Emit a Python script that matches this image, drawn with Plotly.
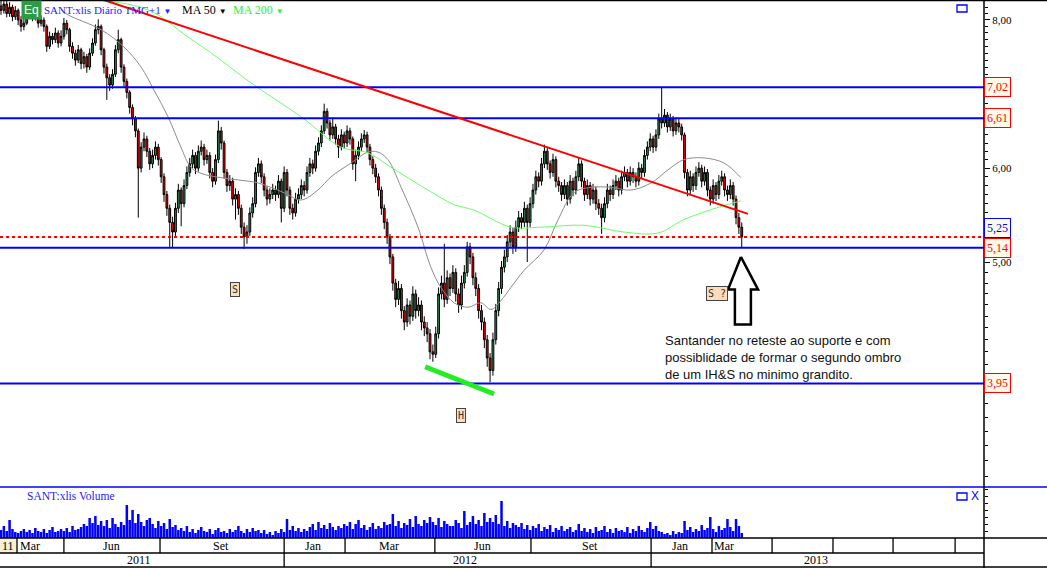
import math
import plotly.graph_objects as go

# ---------------- data (each bar = 2 trading days, Mar/2011 .. Mar/2013) ----------------
opens = [
 8.22,8.15,8.25,8.10,8.20,8.05,8.15,8.00,7.90,7.95,8.10,8.15,8.05,8.10,7.95,8.00,7.90,7.60,7.75,7.70,
 7.80,7.65,7.75,7.95,7.85,7.60,7.50,7.40,7.55,7.35,7.45,7.30,7.50,7.65,7.85,7.90,7.55,7.30,7.15,7.05,
 7.20,7.55,7.70,7.30,7.10,6.95,6.75,6.60,6.45,6.00,6.25,6.35,6.20,6.05,6.15,6.25,6.10,5.90,5.70,5.55,
 5.40,5.30,5.55,5.75,5.60,5.80,5.95,6.05,6.15,6.00,6.20,6.25,6.10,6.15,5.95,5.85,6.10,6.45,6.30,5.95,
 5.80,5.85,5.65,5.70,5.55,5.35,5.25,5.30,5.50,5.60,5.95,6.05,5.90,5.75,5.65,5.70,5.75,5.70,5.85,5.55,
 5.95,5.75,5.55,5.50,5.65,5.70,5.80,5.75,5.95,6.05,6.00,6.20,6.30,6.45,6.70,6.55,6.40,6.50,6.35,6.25,
 6.40,6.30,6.45,6.35,6.05,6.15,6.25,6.35,6.40,6.25,6.10,6.00,5.90,5.75,5.55,5.40,5.25,5.05,4.80,4.65,
 4.75,4.55,4.45,4.60,4.50,4.70,4.55,4.60,4.45,4.40,4.35,4.20,4.18,4.35,4.70,4.80,4.65,4.85,4.75,4.90,
 4.70,4.60,4.80,4.90,5.15,5.05,4.85,4.75,4.55,4.45,4.30,4.15,4.05,4.30,4.55,4.75,4.95,5.05,5.20,5.30,
 5.15,5.35,5.45,5.40,5.55,5.40,5.60,5.75,5.90,5.85,6.05,6.20,6.05,5.95,6.10,5.85,5.80,5.70,5.80,5.65,
 5.85,5.75,5.90,6.05,5.85,5.70,5.80,5.65,5.75,5.60,5.55,5.45,5.60,5.75,5.70,5.80,5.85,5.75,5.90,5.95,
 5.85,5.95,5.90,5.85,6.00,5.95,6.15,6.25,6.35,6.25,6.40,6.60,6.55,6.65,6.50,6.60,6.45,6.55,6.50,6.40,
 5.95,5.75,5.90,5.80,5.95,6.00,5.85,5.95,5.75,5.65,5.80,5.70,5.85,5.90,5.75,5.70,5.80,5.65,5.45,5.35,
]
closes = [
 8.15,8.25,8.10,8.20,8.05,8.15,8.00,7.90,7.95,8.10,8.15,8.05,8.10,7.95,8.00,7.90,7.60,7.75,7.70,7.80,
 7.65,7.75,7.95,7.85,7.60,7.50,7.40,7.55,7.35,7.45,7.30,7.50,7.65,7.85,7.90,7.55,7.30,7.15,7.05,7.20,
 7.55,7.70,7.30,7.10,6.95,6.75,6.60,6.45,6.00,6.25,6.35,6.20,6.05,6.15,6.25,6.10,5.90,5.70,5.55,5.40,
 5.30,5.55,5.75,5.60,5.80,5.95,6.05,6.15,6.00,6.20,6.25,6.10,6.15,5.95,5.85,6.10,6.45,6.30,5.95,5.80,
 5.85,5.65,5.70,5.55,5.35,5.25,5.30,5.50,5.60,5.95,6.05,5.90,5.75,5.65,5.70,5.75,5.70,5.85,5.55,5.95,
 5.75,5.55,5.50,5.65,5.70,5.80,5.75,5.95,6.05,6.00,6.20,6.30,6.45,6.70,6.55,6.40,6.50,6.35,6.25,6.40,
 6.30,6.45,6.35,6.05,6.15,6.25,6.35,6.40,6.25,6.10,6.00,5.90,5.75,5.55,5.40,5.25,5.05,4.80,4.65,4.75,
 4.55,4.45,4.60,4.50,4.70,4.55,4.60,4.45,4.40,4.35,4.20,4.18,4.35,4.70,4.80,4.65,4.85,4.75,4.90,4.70,
 4.60,4.80,4.90,5.15,5.05,4.85,4.75,4.55,4.45,4.30,4.15,4.05,4.30,4.55,4.75,4.95,5.05,5.20,5.30,5.15,
 5.35,5.45,5.40,5.55,5.40,5.60,5.75,5.90,5.85,6.05,6.20,6.05,5.95,6.10,5.85,5.80,5.70,5.80,5.65,5.85,
 5.75,5.90,6.05,5.85,5.70,5.80,5.65,5.75,5.60,5.55,5.45,5.60,5.75,5.70,5.80,5.85,5.75,5.90,5.95,5.85,
 5.95,5.90,5.85,6.00,5.95,6.15,6.25,6.35,6.25,6.40,6.60,6.55,6.65,6.50,6.60,6.45,6.55,6.50,6.40,5.95,
 5.75,5.90,5.80,5.95,6.00,5.85,5.95,5.75,5.65,5.80,5.70,5.85,5.90,5.75,5.70,5.80,5.65,5.45,5.35,5.25,
]
highs = [
 8.32,8.34,8.30,8.28,8.24,8.22,8.18,8.06,8.02,8.18,8.24,8.20,8.16,8.13,8.07,8.04,7.93,7.82,7.80,7.88,
 7.84,7.84,8.03,8.00,7.88,7.66,7.55,7.62,7.58,7.52,7.49,7.57,7.72,7.93,8.01,7.93,7.58,7.35,7.20,7.27,
 7.62,7.85,7.73,7.34,7.14,6.98,6.79,6.64,6.48,6.31,6.43,6.39,6.24,6.22,6.32,6.29,6.13,5.94,5.74,5.59,
 5.46,5.61,5.82,5.78,5.87,6.02,6.12,6.22,6.19,6.27,6.33,6.29,6.22,6.19,6.00,6.16,6.58,6.50,6.33,5.99,
 5.92,5.89,5.77,5.74,5.59,5.40,5.37,5.56,5.67,6.01,6.12,6.09,5.94,5.79,5.77,5.82,5.80,5.92,5.88,6.02,
 5.99,5.79,5.60,5.72,5.77,5.87,5.85,6.02,6.12,6.10,6.27,6.37,6.52,6.80,6.74,6.59,6.62,6.54,6.40,6.47,
 6.44,6.52,6.49,6.38,6.22,6.32,6.42,6.46,6.44,6.29,6.14,6.05,5.94,5.79,5.59,5.44,5.28,5.08,4.84,4.82,
 4.79,4.59,4.66,4.64,4.77,4.74,4.67,4.64,4.50,4.45,4.39,4.26,4.41,4.76,4.87,5.18,4.92,4.89,4.97,4.94,
 4.75,4.87,4.97,5.20,5.19,5.09,4.90,4.79,4.60,4.49,4.34,4.19,4.36,4.61,4.81,5.01,5.12,5.27,5.37,5.34,
 5.42,5.52,5.50,5.62,5.59,5.67,5.82,5.97,5.95,6.12,6.28,6.24,6.09,6.17,6.14,5.90,5.84,5.87,5.84,5.92,
 5.89,5.97,6.12,6.09,5.89,5.87,5.84,5.82,5.79,5.65,5.60,5.67,5.82,5.80,5.87,5.92,5.89,5.97,6.02,5.99,
 6.02,6.00,5.95,6.07,6.05,6.22,6.32,6.42,6.39,6.47,6.67,7.02,6.73,6.69,6.67,6.64,6.62,6.60,6.54,6.43,
 5.99,5.97,5.94,6.02,6.07,6.04,6.02,5.99,5.79,5.87,5.84,5.92,5.97,5.94,5.80,5.87,5.84,5.69,5.50,5.40,
]
lows = [
 8.08,8.10,8.04,8.05,7.98,8.00,7.92,7.82,7.84,7.92,8.04,7.98,7.99,7.88,7.90,7.82,7.52,7.56,7.63,7.65,
 7.58,7.60,7.70,7.78,7.52,7.42,7.32,7.36,7.27,7.28,7.22,7.26,7.46,7.61,7.78,7.47,7.21,6.85,6.97,7.00,
 7.16,7.50,7.22,7.02,6.87,6.67,6.52,6.37,5.45,5.95,6.20,6.13,5.98,6.00,6.10,6.03,5.83,5.62,5.47,5.15,
 5.14,5.26,5.50,5.36,5.56,5.76,5.90,6.00,5.93,5.96,6.15,6.03,6.05,5.88,5.78,5.81,6.06,6.22,5.88,5.73,
 5.74,5.58,5.43,5.48,5.28,5.13,5.18,5.26,5.45,5.56,5.90,5.83,5.68,5.58,5.60,5.65,5.63,5.66,5.40,5.51,
 5.68,5.48,5.43,5.46,5.60,5.65,5.68,5.71,5.90,5.93,5.96,6.15,6.25,6.41,6.48,6.33,6.35,6.28,6.12,6.21,
 6.23,6.25,6.28,5.98,5.85,6.10,6.20,6.30,6.18,6.03,5.93,5.83,5.68,5.48,5.33,5.18,4.98,4.73,4.58,4.60,
 4.48,4.38,4.41,4.43,4.46,4.48,4.50,4.38,4.33,4.28,4.14,4.12,4.15,4.31,4.65,4.58,4.61,4.68,4.71,4.63,
 4.53,4.56,4.75,4.86,4.98,4.78,4.68,4.48,4.38,4.23,4.08,3.96,4.01,4.26,4.50,4.70,4.90,5.00,5.15,5.08,
 5.10,5.30,5.33,5.35,5.00,5.35,5.55,5.70,5.78,5.80,6.00,5.98,5.88,5.90,5.78,5.73,5.63,5.65,5.58,5.60,
 5.68,5.70,5.85,5.78,5.63,5.65,5.58,5.60,5.53,5.48,5.28,5.40,5.55,5.63,5.65,5.75,5.68,5.70,5.85,5.78,
 5.80,5.83,5.78,5.80,5.88,5.90,6.10,6.20,6.18,6.20,6.35,6.48,6.50,6.43,6.45,6.38,6.40,6.43,6.33,5.88,
 5.68,5.70,5.73,5.75,5.90,5.78,5.80,5.68,5.58,5.60,5.63,5.65,5.80,5.68,5.63,5.65,5.58,5.38,5.28,5.14,
]
volumes = [
 8,12,7,18,9,6, 5,7,9,6,8,5,10,7,6,9,5,8,11,6,7,9,
 7,10,6,12,8,9,11, 14,12,20,15,22,13,17, 12,18,10,20,14,11,16,13,
 33,18,28,15,24, 16,12,18,20,14,10,17,12,15,9,19,11,13,8,
 10,7,12,6,9,5,8,11,7,6,9,4,8,10,6,7,5,9,6,8,12,7,5,9,6,10,7,8,
 5,8,4,6,3,7,5,9,6,19,8,12,7,10,6,
 9,7,11,14,8,16,10,13,9,15,11,8,12,10,14,
 12,16,9,14,18,10,13,8,11,15,9,12,10,16,13,
 14,24,12,17,10,15,13,19,11,22,14,12,18,15,21,
 16,13,20,11,17,14,12,12,18,15,10,27,13,16,22,
 14,18,12,25,16,20,16,23,14,37,12,17,10,15,13,
 11,15,9,13,8,12,10,14,7,11,9,13,6,10,8,12,7,9,11,6,
 8,14,7,10,6,9,5,11,7,8,12,6,9,5,10,7,8,6,11,5,9,7,12,8,6,
 10,16,9,12,7,6,4,5,3,7,4,6,5,17,8,11,6,9,7,13,8,10,21,9,6,12,8,10,19,11,7,19,12,5,
]
bars = list(range(len(closes)))

# moving averages (bar index, price)
ma50_x = [21.0,23.4,35.0,43.0,49.0,53.5,58.4,62.9,66.4,69.9,76.9,83.9,89.9,99.0,104.9,110.8,115.4,
          122.4,128.3,131.8,135.3,139.9,145.8,150.3,153.8,158.4,163.3,167.8,171.3,174.8,178.3,182.9,
          189.9,194.8,200.3,206.3,213.3,220.3,227.3,233.2,238.8,245.8,252.8,258.7]
ma50_y = [8.16,8.08,7.85,7.59,7.30,6.98,6.63,6.25,6.01,5.94,5.89,5.86,5.83,5.72,5.64,5.75,5.90,
          6.06,6.19,6.19,6.10,5.78,5.35,4.95,4.76,4.62,4.58,4.62,4.56,4.64,4.76,4.92,
          5.12,5.43,5.72,5.78,5.78,5.75,5.83,5.98,6.10,6.12,6.06,5.89]
ma200_x = [33.2,51.4,65.4,75.9,87.4,104.9,118.9,128.3,136.4,149.3,158.4,165.4,178.3,188.8,203.8,
           217.8,229.7,238.8,250.7,258.7]
ma200_y = [8.32,8.16,7.74,7.43,7.08,6.63,6.25,6.18,6.01,5.75,5.59,5.53,5.35,5.35,5.37,
           5.30,5.29,5.43,5.56,5.63]

support_levels = [7.02, 6.61, 5.14, 3.95]
last_price = 5.25
trend_x = [35.7, 261.2]
trend_y = [8.32, 5.49]
neck_x = [148.3, 172.4]
neck_y = [4.08, 3.87]
arrow_x = [258.7, 264.7, 262.2, 262.2, 256.6, 256.6, 254.2, 258.7]
arrow_y = [5.05, 4.74, 4.74, 4.43, 4.43, 4.74, 4.74, 5.05]

month_labels = ["11", "Mar", "Jun", "Set", "Jan", "Mar", "Jun", "Set", "Jan", "Mar"]
month_label_x = [2.4, 10.1, 38.5, 76.9, 109.1, 135.7, 168.2, 205.9, 237.4, 252.8]
month_edges = [5.6, 22.0, 55.6, 99.0, 120.3, 151.7, 185.3, 227.3, 248.6, 269.6, 290.9, 311.9, 333.6]
year_labels = ["2011", "2012", "2013"]
year_label_x = [48.3, 162.2, 285.0]
year_edges = [99.0, 227.3]

price_ticks = [5, 6, 8]
price_ticktext = ["5,00", "6,00", "8,00"]

# ---------------- figure ----------------
W, H = 1047, 568
PLOT_W, PLOT_H = 984, 538
XR = [-0.35, 343.7]
VOL_TOP = 51 / PLOT_H

def py(p):   # pixel-row -> paper y
    return (PLOT_H - p) / PLOT_H

def px(p):   # pixel-col -> paper x
    return p / PLOT_W

fig = go.Figure()

fig.add_trace(go.Candlestick(
    x=bars, open=opens, high=highs, low=lows, close=closes,
    increasing=dict(fillcolor="#2e8b57", line=dict(color="black", width=1)),
    decreasing=dict(fillcolor="#ff0000", line=dict(color="black", width=1)),
    whiskerwidth=0, xaxis="x", yaxis="y", showlegend=False, hoverinfo="skip"))

fig.add_trace(go.Bar(x=bars, y=volumes, marker=dict(color="#0000ff", line=dict(width=0)),
                     xaxis="x", yaxis="y2", showlegend=False))

fig.add_trace(go.Scatter(x=ma50_x, y=ma50_y, mode="lines", line=dict(color="#8c8c8c", width=1, shape="spline"),
                         showlegend=False, hoverinfo="skip"))
fig.add_trace(go.Scatter(x=ma200_x, y=ma200_y, mode="lines", line=dict(color="#66ff66", width=1, shape="spline"),
                         showlegend=False, hoverinfo="skip"))

for lv in support_levels:
    fig.add_trace(go.Scatter(x=XR, y=[lv, lv], mode="lines", line=dict(color="#0000ff", width=2),
                             showlegend=False, hoverinfo="skip"))
fig.add_trace(go.Scatter(x=XR, y=[last_price, last_price], mode="lines",
                         line=dict(color="#ff0000", width=2, dash="dot"), showlegend=False, hoverinfo="skip"))
fig.add_trace(go.Scatter(x=trend_x, y=trend_y, mode="lines", line=dict(color="#ff0000", width=2),
                         showlegend=False, hoverinfo="skip"))
fig.add_trace(go.Scatter(x=neck_x, y=neck_y, mode="lines", line=dict(color="#22ee22", width=5),
                         showlegend=False, hoverinfo="skip"))
fig.add_trace(go.Scatter(x=arrow_x, y=arrow_y, mode="lines", fill="toself", fillcolor="white",
                         line=dict(color="black", width=2.5), showlegend=False, hoverinfo="skip"))

serif = "Liberation Serif"
ann = []
shapes = []

# right-axis value boxes
def valbox(v, txt, col, anchor="middle"):
    ann.append(dict(x=1, xref="paper", xanchor="left", y=math.log10(v), yref="y", yanchor=anchor,
                    text=txt, showarrow=False, font=dict(family=serif, size=12, color=col),
                    bgcolor="#fffbe8", bordercolor=col, borderwidth=1, borderpad=2))
valbox(7.02, "7,02", "#ff0000")
valbox(6.61, "6,61", "#ff0000")
valbox(5.235, "5,25", "#0000ff", anchor="bottom")
valbox(5.14, "5,14", "#ff0000")
valbox(3.95, "3,95", "#ff0000")

# pattern labels
def tag(xv, yv, txt):
    ann.append(dict(x=xv, xref="x", y=math.log10(yv), yref="y", text=txt, showarrow=False,
                    font=dict(family="DejaVu Sans Mono", size=10, color="#333333"),
                    bgcolor="#fddcbc", bordercolor="#444444", borderwidth=1, borderpad=1))
tag(81.8, 4.74, "S")
tag(161.0, 3.71, "H")
tag(250.5, 4.70, "S ?")

ann.append(dict(x=px(663), xref="paper", xanchor="left", y=py(331), yref="paper", yanchor="top",
                align="left", showarrow=False,
                text="Santander no reteste ao suporte e com<br>possiblidade de formar o segundo ombro<br>de um IH&S no minimo grandito.",
                font=dict(family="Liberation Sans", size=13, color="#111111")))

# header
tri = " <span style='font-size:8px'>▼</span>"
ann.append(dict(x=px(21), xref="paper", xanchor="left", y=py(10), yref="paper", yanchor="middle",
                text="Eq", showarrow=False, font=dict(family="Liberation Sans", size=12, color="white"),
                bgcolor="#2f9a44", borderpad=2))
ann.append(dict(x=px(42), xref="paper", xanchor="left", y=py(10), yref="paper", yanchor="middle",
                text="SANT:xlis Diário TMG+1" + tri, showarrow=False,
                font=dict(family=serif, size=11, color="#2222ff")))
ann.append(dict(x=px(180), xref="paper", xanchor="left", y=py(10), yref="paper", yanchor="middle",
                text="MA 50" + tri, showarrow=False, font=dict(family=serif, size=12, color="black")))
ann.append(dict(x=px(231), xref="paper", xanchor="left", y=py(10), yref="paper", yanchor="middle",
                text="MA 200" + tri, showarrow=False, font=dict(family=serif, size=12, color="#33ee33")))
ann.append(dict(x=px(25), xref="paper", xanchor="left", y=py(496), yref="paper", yanchor="middle",
                text="SANT:xlis Volume", showarrow=False, font=dict(family=serif, size=11.5, color="#2222ff")))
ann.append(dict(x=px(969), xref="paper", xanchor="left", y=py(496), yref="paper", yanchor="middle",
                text="X", showarrow=False, font=dict(family="Liberation Sans", size=12, color="#0000ff")))

# date table
for lab, xv in zip(month_labels, month_label_x):
    ann.append(dict(x=xv, xref="x", y=py(545.5), yref="paper", yanchor="middle", text=lab,
                    showarrow=False, font=dict(family=serif, size=12, color="black")))
for lab, xv in zip(year_labels, year_label_x):
    ann.append(dict(x=xv, xref="x", y=py(560), yref="paper", yanchor="middle", text=lab,
                    showarrow=False, font=dict(family=serif, size=12, color="black")))

shapes.append(dict(type="rect", xref="x", x0=XR[0], x1=month_edges[0], yref="paper", y0=py(538), y1=py(553),
                   fillcolor="#f3f0d6", line=dict(width=0), layer="below"))
for e in month_edges:
    shapes.append(dict(type="line", xref="x", x0=e, x1=e, yref="paper", y0=py(538), y1=py(553),
                       line=dict(color="black", width=1.3)))
for e in year_edges:
    shapes.append(dict(type="line", xref="x", x0=e, x1=e, yref="paper", y0=py(553), y1=py(567),
                       line=dict(color="black", width=1.3)))
for yy, x1 in [(538, W), (553, PLOT_W), (567, W)]:
    shapes.append(dict(type="line", xref="paper", x0=0, x1=x1 / PLOT_W, yref="paper", y0=py(yy), y1=py(yy),
                       line=dict(color="black", width=1.5)))
shapes.append(dict(type="line", xref="paper", x0=0, x1=W / PLOT_W, yref="paper", y0=py(487), y1=py(487),
                   line=dict(color="#0000ff", width=1.3)))
shapes.append(dict(type="line", xref="paper", x0=0, x1=W / PLOT_W, yref="paper", y0=py(0.5), y1=py(0.5),
                   line=dict(color="black", width=1.5)))
shapes.append(dict(type="line", xref="paper", x0=1, x1=1, yref="paper", y0=py(568), y1=1,
                   line=dict(color="black", width=1.5)))
shapes.append(dict(type="rect", xref="paper", x0=px(957), x1=px(967), yref="paper", y0=py(12), y1=py(5),
                   line=dict(color="#0000ff", width=1.3)))
shapes.append(dict(type="rect", xref="paper", x0=px(957), x1=px(967), yref="paper", y0=py(500), y1=py(493),
                   line=dict(color="#0000ff", width=1.3)))

fig.update_layout(
    width=W, height=H, margin=dict(l=0, r=W - PLOT_W, t=0, b=H - PLOT_H),
    paper_bgcolor="white", plot_bgcolor="white", showlegend=False, bargap=0.12, boxgap=0.1,
    xaxis=dict(range=XR, showticklabels=False, showgrid=False, zeroline=False, showline=False,
               ticks="", rangeslider=dict(visible=False), anchor="y2"),
    yaxis=dict(domain=[VOL_TOP, 1], type="log", range=[math.log10(3.2307), math.log10(8.316)],
               side="right", anchor="x", showgrid=False, zeroline=False, showline=False,
               tickvals=price_ticks, ticktext=price_ticktext, ticks="outside", ticklen=5,
               tickcolor="black", tickwidth=1, ticklabelstandoff=0,
               tickfont=dict(family=serif, size=11, color="black"),
               minor=dict(tickvals=[round(3.3 + 0.1 * k, 1) for k in range(51)], ticks="outside",
                          ticklen=3, tickcolor="black", tickwidth=1)),
    yaxis2=dict(domain=[0, VOL_TOP], range=[0, 51], side="right", anchor="x", showgrid=False,
                zeroline=False, showline=False, showticklabels=False, ticks="outside", ticklen=3,
                tickcolor="black", tickvals=[7, 14, 21, 28, 35, 42, 49]),
    annotations=ann, shapes=shapes,
)

fig.write_html("out.html", config={"displayModeBar": False},
               post_script="document.body.style.margin='0px';document.body.style.padding='0px';")
